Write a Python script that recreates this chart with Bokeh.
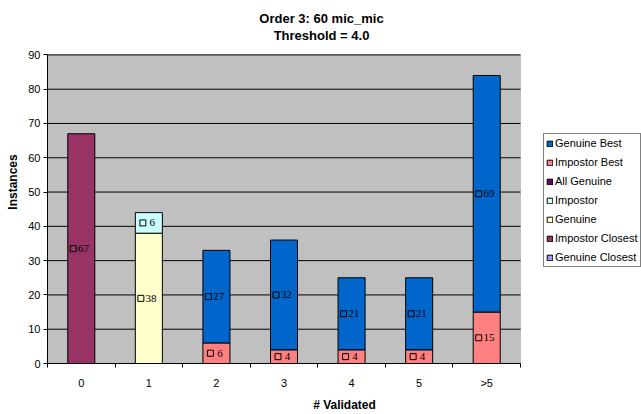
from bokeh.plotting import figure
from bokeh.models import (Range1d, FixedTicker, Legend, LegendItem, Label,
                          ColumnDataSource, BoxAnnotation)
from bokeh.embed import file_html
from bokeh.resources import INLINE

# Counts per "# Validated" bucket
categories = ["0", "1", "2", "3", "4", "5", ">5"]
genuine_closest = [0, 0, 0, 0, 0, 0, 0]
impostor_closest = [67, 0, 0, 0, 0, 0, 0]
genuine = [0, 38, 0, 0, 0, 0, 0]
impostor = [0, 6, 0, 0, 0, 0, 0]
all_genuine = [0, 0, 0, 0, 0, 0, 0]
impostor_best = [0, 0, 6, 4, 4, 4, 15]
genuine_best = [0, 0, 27, 32, 21, 21, 69]

y_ticks = [0, 10, 20, 30, 40, 50, 60, 70, 80, 90]
y_max = 90

# stacking order, bottom to top
series = [
    ("Genuine Closest", genuine_closest, "#9999FF"),
    ("Impostor Closest", impostor_closest, "#993366"),
    ("Genuine", genuine, "#FFFFCC"),
    ("Impostor", impostor, "#CCFFFF"),
    ("All Genuine", all_genuine, "#660066"),
    ("Impostor Best", impostor_best, "#FF8080"),
    ("Genuine Best", genuine_best, "#0066CC"),
]

FONT = "Liberation Sans"
n = len(categories)
xs = list(range(n))

# page geometry (pixels)
W, H = 641, 414
LEFT, BOTTOM = 47, 47
PLOT_W, PLOT_H = 473, 312          # grey plotting area
frame_w, frame_h = W - LEFT, H - BOTTOM
px_per_unit = PLOT_W / n
x_end = -0.5 + frame_w / px_per_unit
y_end = y_max * frame_h / PLOT_H

p = figure(width=W, height=H, output_backend="svg", toolbar_location=None,
           x_range=Range1d(-0.5, x_end), y_range=Range1d(0, y_end),
           min_border_left=LEFT, min_border_right=0, min_border_top=0,
           min_border_bottom=BOTTOM)
p.title.visible = False
p.background_fill_color = "white"
p.border_fill_color = "white"
p.outline_line_color = None
p.xgrid.visible = False
p.ygrid.visible = False

# grey plotting area with black horizontal gridlines
p.add_layout(BoxAnnotation(left=-0.5, right=n - 0.5, bottom=0, top=y_max,
                           fill_color="#C0C0C0", fill_alpha=1.0,
                           line_color="#808080", line_width=1, level="underlay"))
p.segment(x0=[-0.5] * len(y_ticks), x1=[n - 0.5] * len(y_ticks), y0=y_ticks,
          y1=y_ticks, line_color="black", line_width=1)

# stacked bars, one renderer per series (only non-empty segments are drawn)
bottoms = [0] * n
renderers = {}
lab_x, lab_y, lab_t, lab_off, sq_x, sq_y = [], [], [], [], [], []
for name, vals, col in series:
    bx, bb, bt = [], [], []
    for i, v in enumerate(vals):
        if v > 0:
            bx.append(i)
            bb.append(bottoms[i])
            bt.append(bottoms[i] + v)
            # label: small hollow square followed by the value
            nd = len(str(v))
            ymid = bottoms[i] + v / 2
            lab_x.append(i)
            lab_y.append(ymid)
            lab_t.append(str(v))
            lab_off.append(4.7 - 4 * nd)
            sq_x.append(i + (-4 - 2 * nd) / px_per_unit)
            sq_y.append(ymid)
        bottoms[i] += v
    if not bx:
        # series with no counts: keep one undrawable row so its legend swatch shows
        bx, bb, bt = [float("nan")], [0], [0]
    renderers[name] = p.vbar(x=bx, bottom=bb, top=bt, width=0.4, fill_color=col,
                             line_color="black", line_width=1)

p.scatter(sq_x, sq_y, marker="square", size=6, fill_color=None,
          line_color="black", line_width=1)
p.text(x="x", y="y", text="t", x_offset="off",
       source=ColumnDataSource(dict(x=lab_x, y=lab_y, t=lab_t, off=lab_off)),
       text_font=FONT, text_font_size="11px", text_color="black",
       text_align="left", text_baseline="middle")

# axes
p.yaxis.ticker = FixedTicker(ticks=y_ticks)
p.yaxis.bounds = (0, y_max)
p.yaxis.axis_label = "Instances"
p.xaxis.ticker = FixedTicker(ticks=xs, minor_ticks=[i - 0.5 for i in range(n + 1)])
p.xaxis.bounds = (-0.5, n - 0.5)
p.xaxis.major_label_overrides = {i: c for i, c in enumerate(categories)}
p.xaxis.axis_label = "# Validated"
p.xaxis.major_tick_line_color = None
p.xaxis.minor_tick_out = 4
p.xaxis.minor_tick_in = 0
p.xaxis.minor_tick_line_color = "black"
p.yaxis.minor_tick_line_color = None
for ax in (p.xaxis, p.yaxis):
    ax.axis_line_color = "black"
    ax.major_label_text_font = FONT
    ax.major_label_text_font_size = "11px"
    ax.major_label_text_color = "black"
    ax.axis_label_text_font = FONT
    ax.axis_label_text_font_size = "12px"
    ax.axis_label_text_font_style = "bold"
    ax.axis_label_text_color = "black"
p.yaxis.major_tick_out = 4
p.yaxis.major_tick_in = 0
p.yaxis.major_label_standoff = 3
p.yaxis.axis_label_standoff = 5
p.xaxis.major_label_standoff = 7
p.xaxis.axis_label_standoff = 6

# legend to the right of the plotting area
legend_order = ["Genuine Best", "Impostor Best", "All Genuine", "Impostor",
                "Genuine", "Impostor Closest", "Genuine Closest"]
legend = Legend(items=[LegendItem(label=nm, renderers=[renderers[nm]], index=0)
                       for nm in legend_order],
                location=(PLOT_W + 23, 96), border_line_color="black",
                border_line_width=1, background_fill_color="white",
                background_fill_alpha=1.0, label_text_font=FONT,
                label_text_font_size="11px", label_text_color="black",
                glyph_width=7, glyph_height=7, label_height=14,
                label_standoff=2, spacing=5, padding=2, margin=0)
p.add_layout(legend, "center")

# two-line title above the plotting area
for txt, dy in (("Order 3: 60 mic_mic", 21.5), ("Threshold = 4.0", 38.5)):
    p.add_layout(Label(x=321 - LEFT, y=frame_h - dy, x_units="screen",
                       y_units="screen", text=txt, text_font=FONT,
                       text_font_size="13px", text_font_style="bold",
                       text_color="black", text_align="center",
                       text_baseline="middle"))

open("out.html", "w").write(file_html(p, INLINE))
